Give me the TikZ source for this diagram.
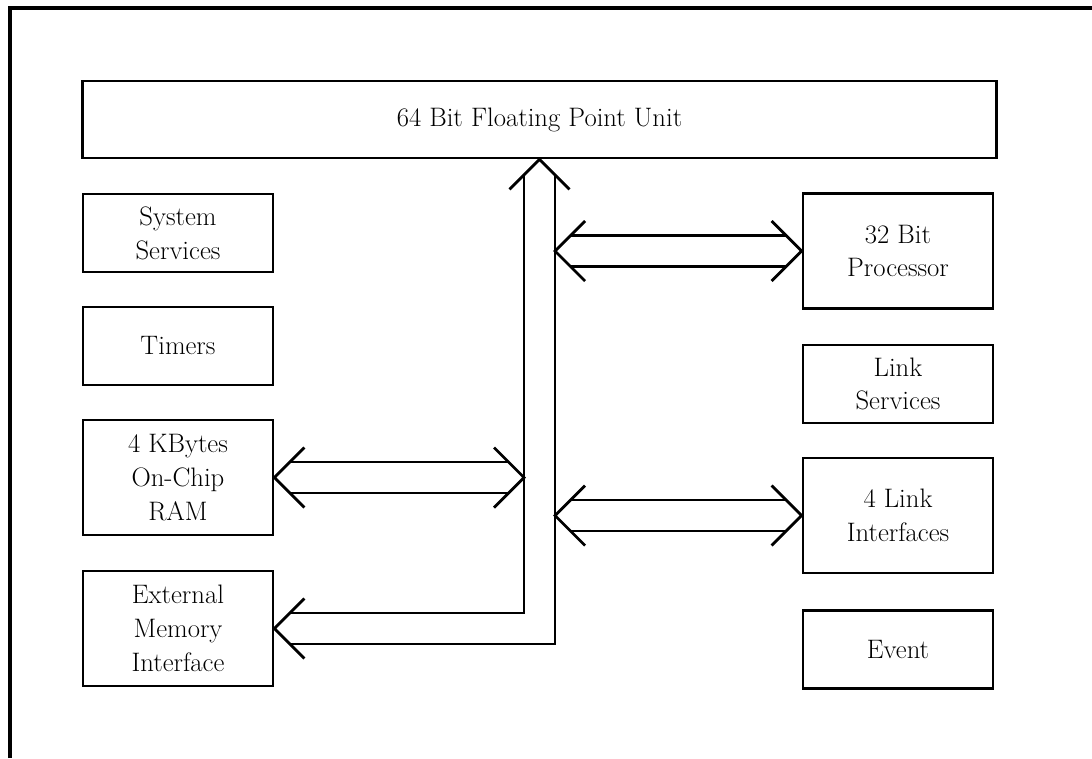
\documentclass[tikz,border=0pt]{standalone}
\usetikzlibrary{calc}
\tikzset{
  blk/.style={draw,line width=2pt,inner sep=0pt,minimum width=4.75cm,minimum height=1.95cm,
    align=center,font=\fontsize{19}{24}\selectfont},
  blkhi/.style={blk,minimum height=2.875cm},
  bus/.style={line width=2pt,line join=miter},
  rahmen/.style={line width=2.2pt},
}
% double-railed link with open heads at both ends, #1 left end, #2 right end
\newcommand{\fatlink}[2]{%
  \draw[bus] ($(#1)+(30,-30)$) -- (#1) -- ($(#1)+(30,30)$);
  \draw[bus] ($(#2)+(-30,-30)$) -- (#2) -- ($(#2)+(-30,30)$);
  \draw[bus] ($(#1)+(15.5,-15.5)$) -- ($(#2)+(-15.5,-15.5)$);
  \draw[bus] ($(#1)+(15.5,15.5)$) -- ($(#2)+(-15.5,15.5)$);}

\begin{document}
\begin{tikzpicture}[x=0.025cm,y=-0.025cm]
  \useasboundingbox (0,0) rectangle (1092,758);
  \draw[rahmen] (10,758) |- (1092,8);

  \node[blk,minimum width=22.825cm,minimum height=1.925cm] (fpu) at (539.5,119.5) {64 Bit Floating Point Unit};

  % left column
  \node[blk] (sys) at (178,233) {System\\Services};
  \node[blk] (tim) at (178,346) {Timers};
  \node[blkhi] (ram) at (178,477.5) {4 KBytes\\On-Chip\\RAM};
  \node[blkhi] (ext) at (178,628.5) {External\\Memory\\Interface};

  % right column
  \node[blkhi] (proc) at (898,251) {32 Bit\\Processor};
  \node[blk] (lsv) at (898,384) {Link\\Services};
  \node[blkhi] (lif) at (898,515.5) {4 Link\\Interfaces};
  \node[blk] (evt) at (898,649.5) {Event};

  % the bus
  \coordinate (bl) at ($(fpu.south)+(-15.5,0)$);
  \coordinate (br) at ($(fpu.south)+(15.5,0)$);
  \draw[bus] ($(fpu.south)+(-30,30)$) -- (fpu.south) -- ($(fpu.south)+(30,30)$);
  \draw[bus] ($(bl)+(0,15.5)$) |- ($(ext.east)+(15.5,-15.5)$);
  \draw[bus] ($(br)+(0,15.5)$) |- ($(ext.east)+(15.5,15.5)$);
  \draw[bus] ($(ext.east)+(30,-30)$) -- (ext.east) -- ($(ext.east)+(30,30)$);

  \fatlink{ram.east}{ram.east -| bl}
  \fatlink{proc.west -| br}{proc.west}
  \fatlink{lif.west -| br}{lif.west}
\end{tikzpicture}
\end{document}
